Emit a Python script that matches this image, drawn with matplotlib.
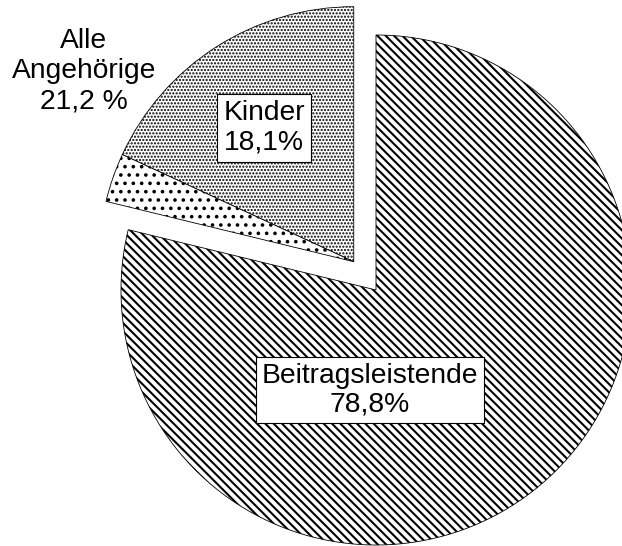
import numpy as np
import matplotlib
matplotlib.use("Agg")
import matplotlib.pyplot as plt

plt.rcParams['font.family'] = ['Liberation Sans', 'DejaVu Sans']
plt.rcParams['hatch.linewidth'] = 1.5

# Anteile in %
labels = ["Kinder", "Sonstige Angehörige", "Beitragsleistende"]
werte = [18.1, 3.1, 78.8]
angehoerige = 21.2
muster = ['.....', '..', '\\\\\\\\']
muster_lw = [1.05, 1.4, 1.5]

# Layout (Pixel, y nach oben)
W, H = 622, 546
mitte = (376, 256)
radius = 255
abstand = 36          # Versatz des herausgezogenen Teils

fig = plt.figure(figsize=(W/100, H/100), dpi=100)
ax = fig.add_axes([0, 0, 1, 1])

wedges, _ = ax.pie(werte, startangle=90, counterclock=True,
                   center=mitte, radius=radius,
                   colors=['white']*3,
                   wedgeprops=dict(edgecolor='black', linewidth=0.6))

for w, h, lw in zip(wedges, muster, muster_lw):
    w.set_hatch(h)
    if hasattr(w, 'set_hatch_linewidth'):
        w.set_hatch_linewidth(lw)
    else:
        w._hatch_linewidth = lw

# Kinder + sonstige Angehörige gemeinsam herausziehen
winkel = np.deg2rad(90 + 360*angehoerige/100/2)
dx, dy = abstand*np.cos(winkel), abstand*np.sin(winkel)
for w in wedges[:2]:
    w.set_center((mitte[0] + dx, mitte[1] + dy))

ax.set_xlim(0, W)
ax.set_ylim(0, H)
ax.set_aspect('equal')
ax.axis('off')

box = dict(boxstyle='square,pad=0.22', facecolor='white', edgecolor='black', linewidth=0.8)
fs = 20.3

ax.text(370, 156, f"Beitragsleistende\n{werte[2]:.1f}%".replace('.', ','),
        ha='center', va='center', fontsize=fs, bbox=box, linespacing=1.12)
ax.text(264, 418, f"Kinder\n{werte[0]:.1f}%".replace('.', ','),
        ha='center', va='center', fontsize=fs, bbox=box, linespacing=1.15)
ax.text(84, 475, f"Alle\nAngehörige\n{angehoerige:.1f} %".replace('.', ','),
        ha='center', va='center', fontsize=fs, linespacing=1.22)

fig.savefig("out.png", dpi=100)
